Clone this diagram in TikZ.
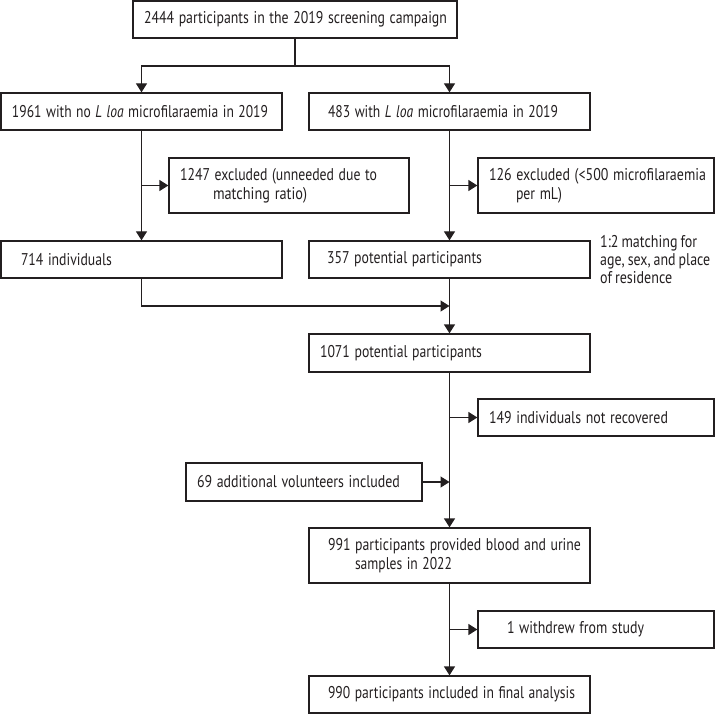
\documentclass[tikz,border=0pt]{standalone}
\usepackage{fontspec}
\usepackage{graphicx}
\setmainfont[WordSpace=0.8]{PT Sans}
\usetikzlibrary{arrows.meta}
\definecolor{ln}{RGB}{35,31,32}
\newlength\fitwlen
\newcommand\fitw[2]{\settowidth\fitwlen{#2}\pgfmathsetmacro\fitwfac{#1/\fitwlen}\scalebox{\fitwfac}[1]{#2}}
\begin{document}
\begin{tikzpicture}[x=1pt,y=-1pt,
  font=\fontsize{17}{19}\selectfont,
  box/.style={draw=ln, text=ln, line width=1.3pt, inner ysep=0pt, align=left},
  bx/.style n args={3}{box, minimum height=#1, inner xsep=#2, text width=#3},
  con/.style={draw=ln, line width=1.3pt},
  arr/.style={con, -{Triangle[length=9pt,width=11pt]}}]
\useasboundingbox (0,0) rectangle (715,714);

\node[bx={37pt}{11pt}{302pt}] (top) at (295,19.5) {\fitw{303}{2444 participants in the 2019 screening campaign}};
\node[bx={37pt}{11pt}{259pt}] (n1961) at (141.5,111.5) {\fitw{256}{1961 with no \emph{L loa} microfilaraemia in 2019}};
\node[bx={37pt}{19pt}{243pt}] (n483) at (449.5,111.5) {\fitw{230}{483 with \emph{L loa} microfilaraemia in 2019}};
\node[bx={55pt}{11pt}{218pt}] (ex1) at (289,185.5) {\fitw{197}{1247 excluded (unneeded due to}\\\hspace*{33pt}\fitw{94}{matching ratio)}};
\node[bx={55pt}{11pt}{214pt}] (ex2) at (596,185.5) {\fitw{217}{126 excluded (<500 microfilaraemia}\\\hspace*{27pt}\fitw{46}{per mL)}};
\node[bx={37pt}{20pt}{241pt}] (n714) at (141.5,259.5) {\fitw{91}{714 individuals}};
\node[bx={37pt}{18pt}{245pt}] (n357) at (449.5,259.5) {\fitw{155}{357 potential participants}};
\node[text=ln, align=left, anchor=west, inner sep=0pt, font=\fontsize{17}{18}\selectfont] (note) at (600,260) {\fitw{97}{1:2 matching for}\\\fitw{110}{age, sex, and place}\\\fitw{72}{of residence}};
\node[bx={38pt}{11pt}{259pt}] (n1071) at (449.5,353) {\fitw{162}{1071 potential participants}};
\node[bx={37pt}{11pt}{214pt}] (n149) at (596,417.5) {\fitw{179}{149 individuals not recovered}};
\node[bx={38pt}{11pt}{214pt}] (n69) at (304,482) {\fitw{203}{69 additional volunteers included}};
\node[bx={55pt}{19pt}{243pt}] (n991) at (449.5,555.5) {\fitw{253}{991 participants provided blood and urine}\\\hspace*{27pt}\fitw{97}{samples in 2022}};
\node[bx={37pt}{29pt}{178pt}] (n1w) at (596,629.5) {\fitw{137}{1 withdrew from study}};
\node[bx={37pt}{19pt}{243pt}] (n990) at (449.5,694.5) {\fitw{247}{990 participants included in final analysis}};

\coordinate (br) at (295,66);
\coordinate (mg) at (449.5,306);

\draw[con] (top.south) -- (br);
\draw[arr] (br) -| (n1961.north);
\draw[arr] (br) -| (n483.north);
\draw[arr] (n1961.south) -- (n714.north);
\draw[arr] (n1961.south |- ex1.west) -- (ex1.west);
\draw[arr] (n483.south) -- (n357.north);
\draw[arr] (n483.south |- ex2.west) -- (ex2.west);
\draw[arr] (n714.south) |- (mg);
\draw[arr] (n357.south) -- (n1071.north);
\draw[arr] (n1071.south) -- (n991.north);
\draw[arr] (n1071.south |- n149.west) -- (n149.west);
\draw[arr] (n69.east) -- (n1071.south |- n69.east);
\draw[arr] (n991.south) -- (n990.north);
\draw[arr] (n991.south |- n1w.west) -- (n1w.west);
\end{tikzpicture}
\end{document}
